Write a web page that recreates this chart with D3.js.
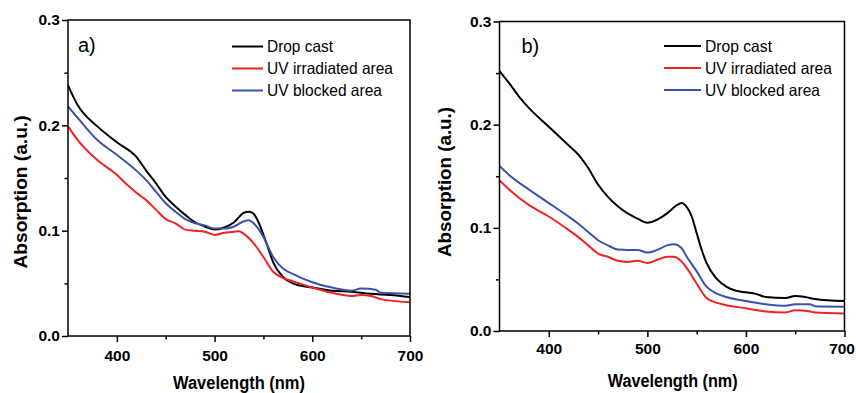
<!DOCTYPE html>
<html><head><meta charset="utf-8">
<script src="https://cdn.jsdelivr.net/npm/d3@7"></script>
<style>
html,body{margin:0;padding:0;background:#fff;}
svg{display:block;font-family:"Liberation Sans",Arial,sans-serif;}
</style></head>
<body>
<svg id="c" width="856" height="393"></svg>
<script>
// ---------- data ----------
const seriesNames = ["Drop cast", "UV irradiated area", "UV blocked area"];
const seriesColors = ["#000000", "#ee2227", "#3a52ad"];
const xTicks = [400, 500, 600, 700];
const yTicks = [0.0, 0.1, 0.2, 0.3];
const panelLabels = ["a)", "b)"];

// panel a
const aWl_black = [350,360,380,400,420,430,440,450,460,470,480,490,500,510,520,530,535,540,545,550,555,560,570,580,600,620,640,660,680,700];
const aBlack    = [0.238,0.219,0.199,0.184,0.170,0.157,0.145,0.132,0.123,0.115,0.108,0.104,0.101,0.103,0.108,0.117,0.118,0.116,0.108,0.096,0.083,0.070,0.056,0.050,0.046,0.043,0.042,0.040,0.039,0.037];
const aWl_red   = [350,360,380,400,410,420,430,440,450,460,470,480,490,500,510,520,525,530,540,550,560,570,580,600,620,640,650,660,670,700];
const aRed      = [0.199,0.186,0.167,0.153,0.144,0.136,0.129,0.120,0.111,0.107,0.101,0.100,0.099,0.096,0.098,0.099,0.0995,0.097,0.088,0.075,0.061,0.055,0.052,0.046,0.041,0.038,0.039,0.038,0.035,0.032];
const aWl_blue  = [350,360,380,400,420,430,440,450,460,470,480,490,500,510,520,530,535,540,550,560,570,580,600,620,640,650,665,670,700];
const aBlue     = [0.218,0.207,0.186,0.172,0.157,0.148,0.137,0.126,0.118,0.111,0.107,0.105,0.102,0.102,0.104,0.109,0.110,0.107,0.094,0.075,0.064,0.059,0.051,0.046,0.043,0.045,0.044,0.041,0.040];

// panel b
const bWl_black = [350,360,370,380,400,420,430,440,450,460,470,480,490,500,510,520,530,535,540,545,550,555,560,570,580,590,600,610,620,640,650,660,670,700];
const bBlack    = [0.252,0.240,0.227,0.216,0.198,0.180,0.171,0.158,0.142,0.130,0.121,0.114,0.109,0.105,0.108,0.114,0.122,0.124,0.120,0.111,0.095,0.079,0.066,0.051,0.043,0.039,0.0375,0.036,0.033,0.032,0.034,0.033,0.031,0.029];
const bWl_red   = [350,360,380,400,420,430,440,450,460,470,480,490,500,510,520,527,535,540,550,560,570,580,600,620,640,650,665,670,700];
const bRed      = [0.146,0.137,0.122,0.111,0.098,0.091,0.083,0.075,0.072,0.068,0.067,0.068,0.066,0.069,0.072,0.072,0.067,0.061,0.046,0.032,0.0275,0.025,0.022,0.019,0.018,0.020,0.019,0.018,0.017];
const bWl_blue  = [350,360,380,400,420,430,440,450,460,470,480,490,500,510,520,527,535,540,550,560,570,580,600,620,640,650,665,670,700];
const bBlue     = [0.160,0.151,0.137,0.124,0.111,0.104,0.096,0.088,0.083,0.079,0.0786,0.0786,0.076,0.0786,0.083,0.084,0.080,0.072,0.058,0.043,0.0365,0.033,0.029,0.026,0.0245,0.026,0.026,0.024,0.0236];

// ---------- layout ----------
const panels = [
  { left: 68, right: 410, top: 20, bottom: 336, xPad: 7.5,
    label: {x: 78, y: 45}, legend: {x1: 232, x2: 263, tx: 267, y0: 46.5, dy: 22, w: [66,126,115]},
    yTitle: {x: 20.7, y: 192, len: 153}, xTitle: {x: 239, y: 388.5, len: 132},
    series: [[aWl_black, aBlack], [aWl_red, aRed], [aWl_blue, aBlue]] },
  { left: 499.5, right: 844.5, top: 21.5, bottom: 331, xPad: 5.5,
    label: {x: 521.5, y: 46}, legend: {x1: 664, x2: 701, tx: 705, y0: 46, dy: 22, w: [67,127,115]},
    yTitle: {x: 444.3, y: 182, len: 150}, xTitle: {x: 672.7, y: 386.7, len: 130},
    series: [[bWl_black, bBlack], [bWl_red, bRed], [bWl_blue, bBlue]] }
];

const svg = d3.select("#c");

panels.forEach((p, pi) => {
  const x = d3.scaleLinear().domain([350, 700]).range([p.left, p.right]);
  const y = d3.scaleLinear().domain([0, 0.3]).range([p.bottom, p.top]);
  const g = svg.append("g");

  const clipId = "clip" + pi;
  svg.append("clipPath").attr("id", clipId).append("rect")
    .attr("x", p.left).attr("y", p.top).attr("width", p.right - p.left).attr("height", p.bottom - p.top);

  // curves
  const line = d3.line().x(d => x(d[0])).y(d => y(d[1])).curve(d3.curveMonotoneX);
  p.series.forEach((s, i) => {
    const pts = s[0].map((w, k) => [w, s[1][k]]);
    g.append("path").attr("d", line(pts)).attr("fill", "none")
      .attr("stroke", seriesColors[i]).attr("stroke-width", 2)
      .attr("stroke-linejoin", "round").attr("clip-path", `url(#${clipId})`);
  });

  // frame
  g.append("rect").attr("x", p.left).attr("y", p.top)
    .attr("width", p.right - p.left).attr("height", p.bottom - p.top)
    .attr("fill", "none").attr("stroke", "#000").attr("stroke-width", 1.5);

  // x axis
  const xAxis = g.append("g").attr("transform", `translate(0,${p.bottom})`)
    .call(d3.axisBottom(x).tickValues(xTicks).tickFormat(d3.format("d")).tickSize(6).tickPadding(p.xPad));
  const xMinor = g.append("g").attr("transform", `translate(0,${p.bottom})`)
    .call(d3.axisBottom(x).tickValues([450, 550, 650]).tickFormat("").tickSize(3.5));
  // y axis
  const yAxis = g.append("g").attr("transform", `translate(${p.left},0)`)
    .call(d3.axisLeft(y).tickValues(yTicks).tickFormat(d3.format(".1f")).tickSize(6).tickPadding(2));
  const yMinor = g.append("g").attr("transform", `translate(${p.left},0)`)
    .call(d3.axisLeft(y).tickValues([0.05, 0.15, 0.25]).tickFormat("").tickSize(3.5));
  [xAxis, xMinor, yAxis, yMinor].forEach(a => {
    a.select(".domain").remove();
    a.selectAll("line").attr("stroke", "#000").attr("stroke-width", 1.5);
    a.selectAll("text").attr("fill", "#000").attr("font-size", 15.5).attr("font-weight", "bold")
      .attr("font-family", "'Liberation Sans', Arial, sans-serif");
  });
  // keep the last x label inside the page
  xAxis.selectAll(".tick text").each(function() {
    const bb = this.getBBox();
    const tick = this.parentNode.transform.baseVal.consolidate().matrix.e;
    const overflow = tick + bb.x + bb.width - 855;
    if (overflow > 0) d3.select(this).attr("dx", -overflow);
  });

  // axis titles
  g.append("text").attr("x", p.xTitle.x).attr("y", p.xTitle.y).attr("text-anchor", "middle")
    .attr("font-size", 18).attr("font-weight", "bold").attr("textLength", p.xTitle.len)
    .attr("lengthAdjust", "spacingAndGlyphs").text("Wavelength (nm)");
  g.append("text").attr("transform", `translate(${p.yTitle.x},${p.yTitle.y}) rotate(-90)`)
    .attr("text-anchor", "middle").attr("dy", "0.36em")
    .attr("font-size", 18).attr("font-weight", "bold").attr("textLength", p.yTitle.len)
    .attr("lengthAdjust", "spacingAndGlyphs").text("Absorption (a.u.)");

  // panel label
  g.append("text").attr("x", p.label.x).attr("y", p.label.y).attr("dy", "0.36em")
    .attr("font-size", 20).text(panelLabels[pi]);

  // legend
  seriesNames.forEach((name, i) => {
    const ly = p.legend.y0 + i * p.legend.dy;
    g.append("line").attr("x1", p.legend.x1).attr("x2", p.legend.x2).attr("y1", ly).attr("y2", ly)
      .attr("stroke", seriesColors[i]).attr("stroke-width", 2);
    g.append("text").attr("x", p.legend.tx).attr("y", ly).attr("dy", "0.36em")
      .attr("font-size", 16.5).attr("textLength", p.legend.w[i]).attr("lengthAdjust", "spacingAndGlyphs")
      .text(name);
  });
});
</script>
</body></html>
